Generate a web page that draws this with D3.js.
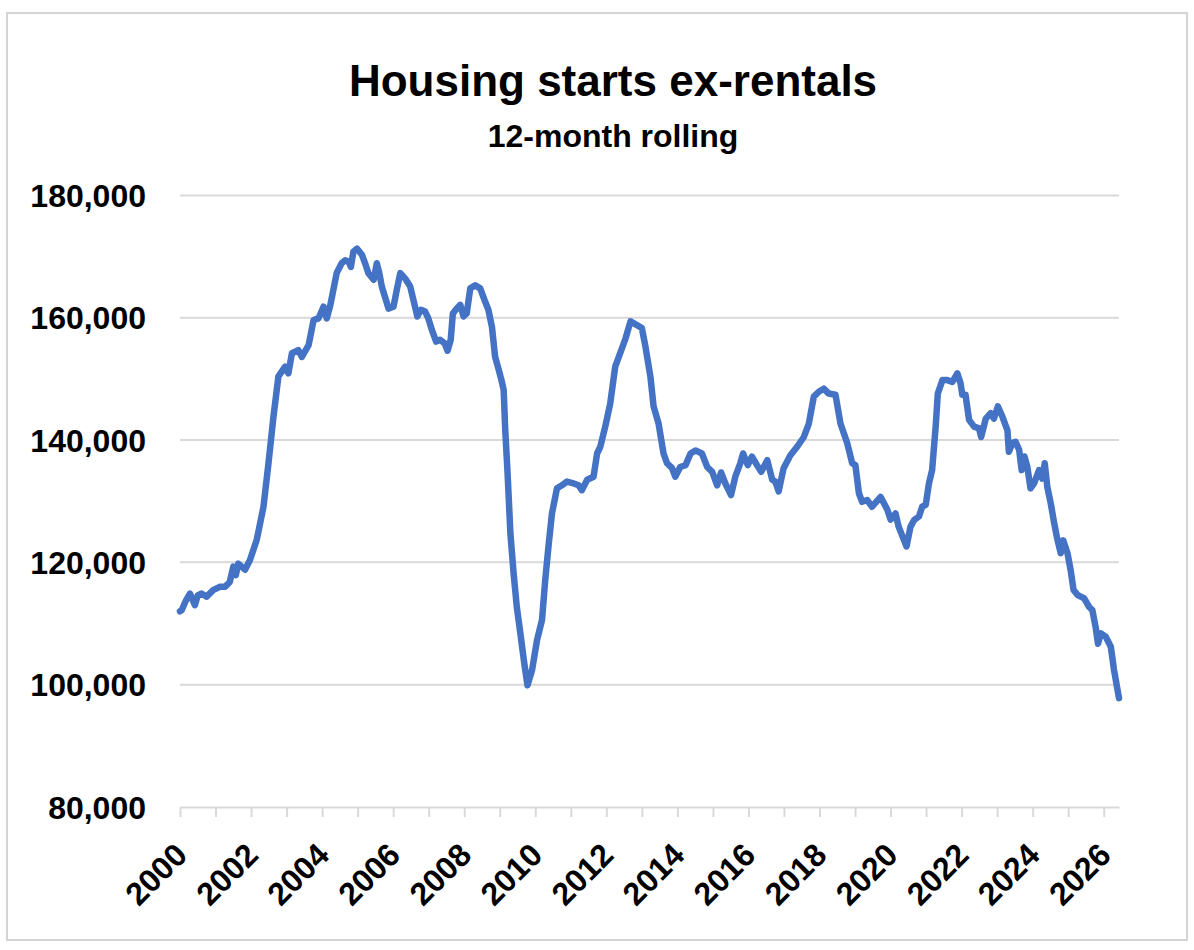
<!DOCTYPE html>
<html>
<head>
<meta charset="utf-8">
<script src="https://cdn.jsdelivr.net/npm/d3@7"></script>
<style>
  body { margin: 0; background: #fff; }
  text { font-family: "Liberation Sans", Arial, sans-serif; font-weight: bold; fill: #000; }
</style>
</head>
<body>
<div id="vis"></div>
<script>
// 12-month rolling housing starts ex-rentals
// (decimal year, value)
var years = [
  2000.0, 2000.05, 2000.17, 2000.28, 2000.42, 2000.5, 2000.6, 2000.75, 2000.94,
  2001.13, 2001.27, 2001.4, 2001.5, 2001.57, 2001.64, 2001.83, 2001.97,
  2002.16, 2002.35, 2002.49, 2002.63, 2002.77, 2002.96,
  2003.05, 2003.15, 2003.33, 2003.43, 2003.62, 2003.76, 2003.9,
  2004.04, 2004.13, 2004.23, 2004.41, 2004.55, 2004.65, 2004.74, 2004.81, 2004.88, 2004.98,
  2005.12, 2005.21, 2005.3, 2005.45, 2005.54, 2005.61, 2005.68, 2005.77, 2005.87,
  2006.01, 2006.1, 2006.2, 2006.34, 2006.48, 2006.57, 2006.68, 2006.78, 2006.9, 2006.99,
  2007.09, 2007.21, 2007.32, 2007.45, 2007.53, 2007.62, 2007.68, 2007.79, 2007.89, 2007.98,
  2008.07, 2008.17, 2008.31, 2008.45, 2008.59, 2008.68, 2008.78, 2008.87, 2008.97,
  2009.06, 2009.11, 2009.155, 2009.22, 2009.3, 2009.39, 2009.48, 2009.58, 2009.69, 2009.78, 2009.91,
  2010.05, 2010.19, 2010.28, 2010.38, 2010.47, 2010.61, 2010.75, 2010.89,
  2011.08, 2011.22, 2011.31, 2011.46, 2011.64, 2011.74, 2011.83, 2011.97,
  2012.11, 2012.25, 2012.39, 2012.54, 2012.68, 2012.86,
  2013.0, 2013.1, 2013.24, 2013.33, 2013.47, 2013.61, 2013.71, 2013.85, 2013.94,
  2014.08, 2014.23, 2014.37, 2014.51, 2014.69, 2014.84, 2014.98,
  2015.12, 2015.23, 2015.35, 2015.51, 2015.63, 2015.77, 2015.85, 2015.98,
  2016.1, 2016.24, 2016.36, 2016.53, 2016.67, 2016.76, 2016.85, 2016.99,
  2017.18, 2017.37, 2017.56, 2017.7, 2017.84, 2017.98,
  2018.12, 2018.26, 2018.45, 2018.59, 2018.78, 2018.92,
  2019.01, 2019.11, 2019.2, 2019.34, 2019.48, 2019.72, 2019.91,
  2020.0, 2020.14, 2020.23, 2020.38, 2020.45, 2020.56, 2020.66, 2020.8, 2020.89, 2020.99,
  2021.08, 2021.17, 2021.27, 2021.33, 2021.46, 2021.6, 2021.74, 2021.88, 2021.97,
  2022.02, 2022.11, 2022.21, 2022.35, 2022.49, 2022.55, 2022.68, 2022.82, 2022.91,
  2023.02, 2023.15, 2023.29, 2023.33, 2023.43, 2023.52, 2023.62, 2023.69, 2023.77, 2023.85, 2023.94,
  2024.04, 2024.18, 2024.27, 2024.34, 2024.41, 2024.51, 2024.6, 2024.69, 2024.79, 2024.86, 2024.98,
  2025.07, 2025.15, 2025.26, 2025.45, 2025.59, 2025.68, 2025.77, 2025.84, 2025.92,
  2026.06, 2026.2, 2026.29, 2026.43
];

var starts = [
  112000, 112200, 113800, 114900, 113000, 114600, 114900, 114400, 115500,
  116000, 116000, 116800, 119300, 117900, 119800, 118800, 120400,
  123700, 129100, 136200, 143800, 150400, 152000,
  150900, 154200, 154700, 153600, 155500, 159600, 159900,
  161800, 159900, 162000, 167300, 168900, 169400, 169200, 168300, 170800, 171300,
  170300, 168900, 167300, 166200, 168900, 167300, 165100, 163400, 161500,
  161800, 164500, 167300, 166400, 165100, 162900, 160200, 161300, 161000, 159900,
  158000, 156100, 156400, 155800, 154600, 156400, 160700, 161500, 162100, 160200,
  160700, 164800, 165300, 164800, 162600, 161300, 158500, 153600, 151500,
  149500, 148200, 141600, 134600, 124700, 118200, 112700, 108400, 103500, 99900, 102400,
  107300, 110600, 117100, 123100, 128000, 132100, 132600, 133200,
  132900, 132600, 131800, 133500, 134000, 137800, 138900, 142200,
  146000, 152000, 154200, 156600, 159400, 158800,
  158300, 155300, 150400, 145500, 142700, 137800, 136200, 135400, 134000,
  135600, 135900, 137800, 138300, 137800, 135600, 134800,
  132600, 134700, 132900, 131000, 134000, 136200, 137800, 135900,
  137300, 135900, 134800, 136700, 133500, 133200, 131600, 135400,
  137500, 138900, 140500, 142700, 147100, 147900,
  148400, 147600, 147400, 142700, 139500, 136200,
  135900, 131300, 129900, 130200, 129100, 130700, 128600,
  127000, 128000, 125800, 123600, 122600, 125800, 126900, 127500, 129100, 129400,
  132900, 135100, 142200, 147600, 149800, 149800, 149500, 150900, 149300,
  147400, 147400, 143300, 142200, 141900, 140500, 143500, 144400, 143500,
  145500, 143800, 141600, 138100, 139500, 139700, 138400, 135100, 137300, 135600, 132100,
  132900, 135100, 133700, 136200, 132400, 129600, 126600, 123900, 121500, 123600, 121500,
  118700, 115500, 114700, 114100, 112700, 112200, 109500, 106700, 108400,
  107800, 106200, 102400, 97800
];

var yTicks = [80000, 100000, 120000, 140000, 160000, 180000];
var xLabelYears = [2000, 2002, 2004, 2006, 2008, 2010, 2012, 2014, 2016, 2018, 2020, 2022, 2024, 2026];

var title = 'Housing starts ex-rentals';
var subtitle = '12-month rolling';

var width = 1194;
var height = 950;

var data = years.map(function (d, i) { return { year: d, value: starts[i] }; });

var svg = d3.select('#vis')
  .append('svg')
  .attr('width', width)
  .attr('height', height);

// chart frame
svg.append('rect')
  .attr('x', 7).attr('y', 13)
  .attr('width', 1180).attr('height', 927)
  .attr('fill', '#fff')
  .attr('stroke', '#d4d4d4')
  .attr('stroke-width', 2);

var x = d3.scaleLinear()
  .domain([2000, years[years.length - 1]])
  .range([180, 1119]);

var y = d3.scaleLinear()
  .domain([80000, 180000])
  .range([807, 195.4]);

// gridlines
svg.append('g')
  .selectAll('line')
  .data(yTicks.slice(1))
  .enter()
  .append('line')
  .attr('x1', x.range()[0])
  .attr('x2', x.range()[1])
  .attr('y1', function (d) { return y(d); })
  .attr('y2', function (d) { return y(d); })
  .attr('stroke', '#d9d9d9')
  .attr('stroke-width', 2);

// y labels
svg.append('g')
  .selectAll('text')
  .data(yTicks)
  .enter()
  .append('text')
  .attr('x', 146)
  .attr('y', function (d) { return y(d); })
  .attr('dy', '0.36em')
  .attr('text-anchor', 'end')
  .attr('font-size', 32)
  .text(d3.format(','));

// x axis with yearly ticks
var xAxis = d3.axisBottom(x)
  .tickValues(d3.range(2000, 2027))
  .tickSize(10)
  .tickSizeOuter(0)
  .tickFormat('');

var gx = svg.append('g')
  .attr('transform', 'translate(0,' + y(80000) + ')')
  .call(xAxis);
gx.select('.domain').attr('stroke', '#d9d9d9').attr('stroke-width', 2);
gx.selectAll('.tick line').attr('stroke', '#d9d9d9').attr('stroke-width', 2);

svg.append('g')
  .selectAll('text')
  .data(xLabelYears)
  .enter()
  .append('text')
  .attr('text-anchor', 'end')
  .attr('font-size', 32)
  .attr('transform', function (d) {
    return 'translate(' + (x(d) + 9) + ',' + (y(80000) + 50) + ') rotate(-45)';
  })
  .text(function (d) { return d; });

// the series
var line = d3.line()
  .x(function (d) { return x(d.year); })
  .y(function (d) { return y(d.value); });

svg.append('path')
  .datum(data)
  .attr('d', line)
  .attr('fill', 'none')
  .attr('stroke', '#4472c4')
  .attr('stroke-width', 6.5)
  .attr('stroke-linejoin', 'round')
  .attr('stroke-linecap', 'round');

// titles
svg.append('text')
  .attr('x', 613)
  .attr('y', 96)
  .attr('text-anchor', 'middle')
  .attr('font-size', 44)
  .text(title);

svg.append('text')
  .attr('x', 613)
  .attr('y', 147)
  .attr('text-anchor', 'middle')
  .attr('font-size', 32)
  .text(subtitle);
</script>
</body>
</html>
